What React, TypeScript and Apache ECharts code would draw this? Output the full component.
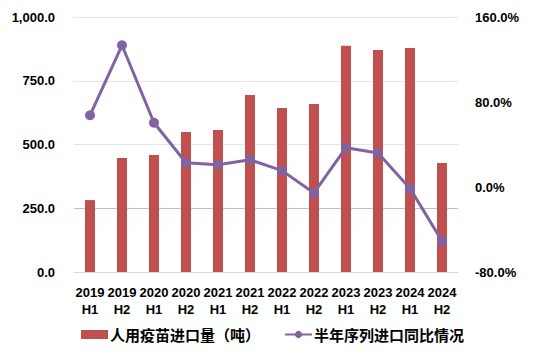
import React, { useEffect, useRef } from "react";
import * as echarts from "echarts";

const categories = [
  "2019\nH1", "2019\nH2", "2020\nH1", "2020\nH2", "2021\nH1", "2021\nH2",
  "2022\nH1", "2022\nH2", "2023\nH1", "2023\nH2", "2024\nH1", "2024\nH2",
];
const importVolume = [282, 447, 459, 549, 557, 694, 643, 659, 887, 871, 878, 427];
const yoyChange = [67.5, 133.4, 60.5, 22.8, 20.9, 25.7, 15.4, -5.6, 37.0, 32.0, -1.3, -50.8];
const barName = "人用疫苗进口量（吨）";
const lineName = "半年序列进口同比情况";

const FONT = "'Liberation Sans', Arial, 'Noto Sans CJK SC', sans-serif";

export default function App() {
  const ref = useRef<HTMLDivElement>(null);
  useEffect(() => {
    if (!ref.current) return;
    const chart = echarts.init(ref.current, undefined, { renderer: "svg" });
    chart.setOption({
      animation: false,
      grid: { left: 74, right: 77, top: 17, bottom: 92 },
      legend: {
        bottom: 17,
        left: 76,
        itemGap: 24,
        itemWidth: 27,
        itemHeight: 9,
        textStyle: { fontFamily: "'Noto Sans CJK SC', sans-serif", fontSize: 15, fontWeight: "bold", color: "#000", padding: [0, 0, 0, -3] },
        data: [
          { name: barName, icon: "rect" },
          { name: lineName },
        ],
      },
      xAxis: {
        type: "category",
        data: categories,
        axisLine: { lineStyle: { color: "#d9d9d9", width: 1 } },
        axisTick: { show: false },
        axisLabel: {
          fontFamily: FONT,
          fontSize: 13,
          fontWeight: "bold",
          color: "#000",
          lineHeight: 17,
          margin: 12,
          interval: 0,
        },
      },
      yAxis: [
        {
          type: "value",
          min: 0,
          max: 1000,
          interval: 250,
          axisLine: { show: false },
          axisTick: { show: false },
          axisLabel: {
            fontFamily: FONT,
            fontSize: 13,
            fontWeight: "bold",
            color: "#000",
            margin: 19,
            formatter: (v: number) =>
              v.toLocaleString("en-US", { minimumFractionDigits: 1, maximumFractionDigits: 1 }),
          },
          splitLine: {
            lineStyle: {
              color: ["#d9d9d9", "#a9c2e4", "#dfe5f1", "#dfe5f1", "#dfe5f1"],
              width: 1,
            },
          },
        },
        {
          type: "value",
          min: -80,
          max: 160,
          interval: 80,
          axisLine: { show: false },
          axisTick: { show: false },
          splitLine: { show: false },
          axisLabel: {
            fontFamily: FONT,
            fontSize: 13,
            fontWeight: "bold",
            color: "#000",
            margin: 17,
            formatter: (v: number) => v.toFixed(1) + "%",
          },
        },
      ],
      series: [
        {
          name: barName,
          type: "bar",
          data: importVolume,
          barWidth: 10,
          itemStyle: { color: "#C0504D" },
          yAxisIndex: 0,
        },
        {
          name: lineName,
          type: "line",
          data: yoyChange,
          yAxisIndex: 1,
          symbol: "circle",
          symbolSize: 10,
          lineStyle: { color: "#8064A2", width: 3 },
          itemStyle: { color: "#8064A2" },
        },
      ],
    });
    return () => chart.dispose();
  }, []);
  return <div ref={ref} style={{ width: 535, height: 364, position: "absolute", left: 0, top: 0 }} />;
}
